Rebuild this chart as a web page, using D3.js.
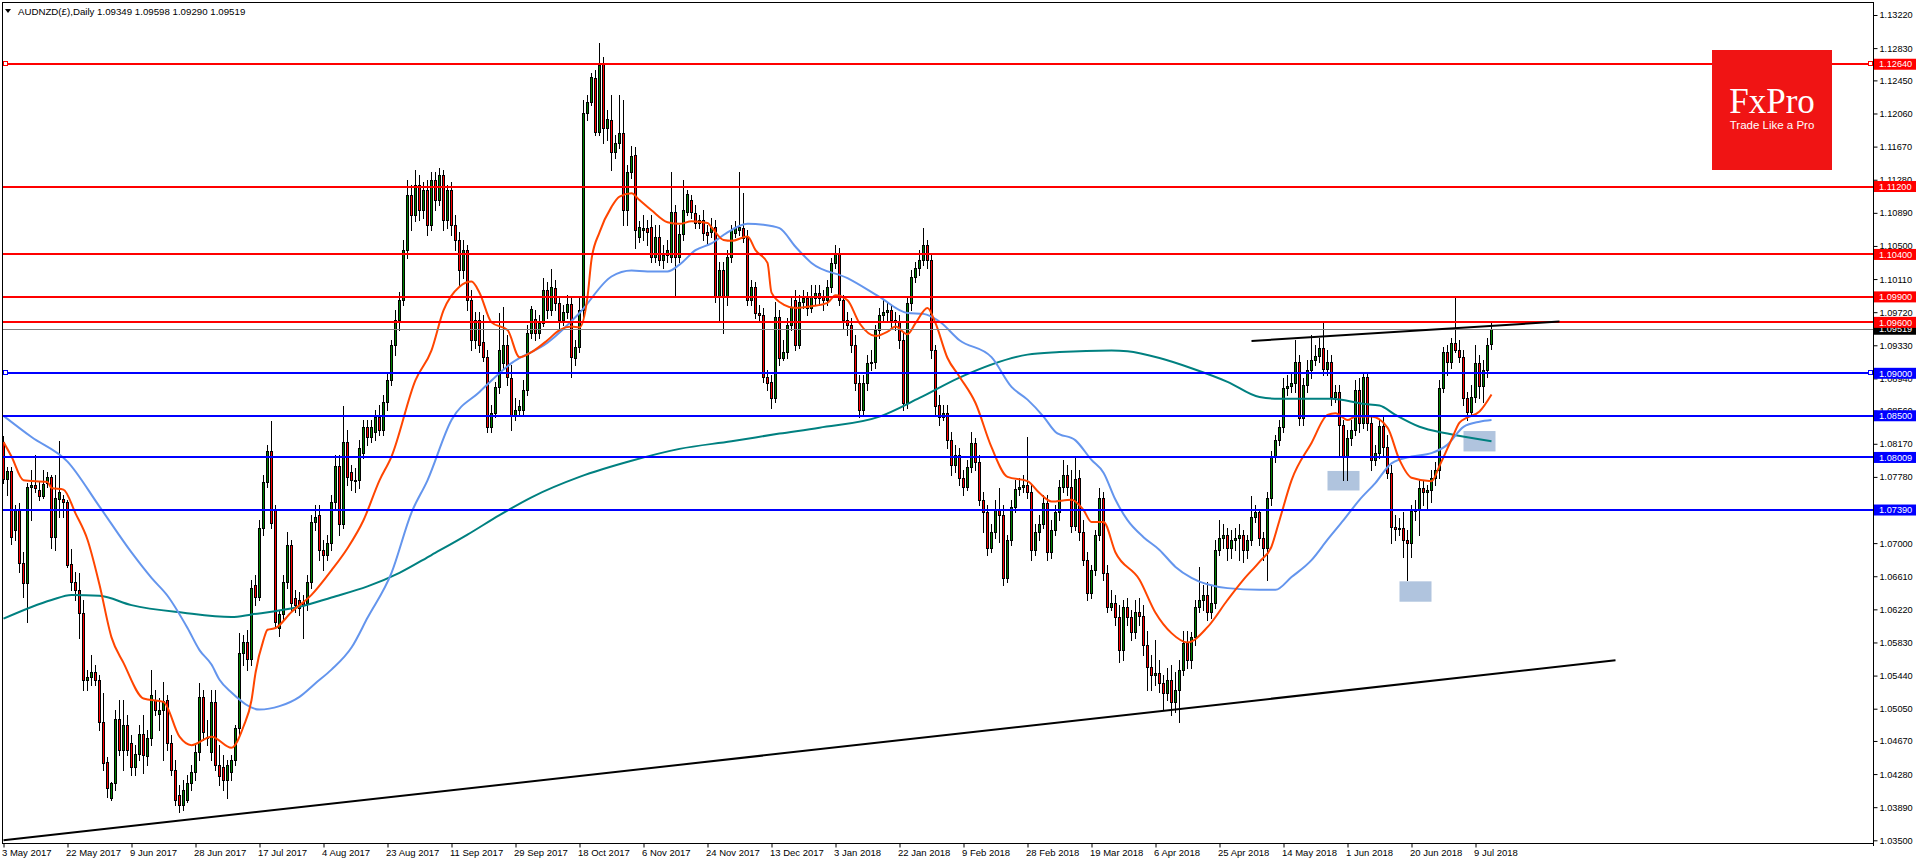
<!DOCTYPE html>
<html><head><meta charset="utf-8">
<script src="https://cdn.jsdelivr.net/npm/d3@7"></script>
<style>body{margin:0;background:#fff;}svg{display:block;}</style>
</head><body><svg id="c" width="1916" height="864"></svg>
<script>
const symbolTitle = "AUDNZD(£),Daily  1.09349 1.09598 1.09290 1.09519";
const dateLabels = ["3 May 2017","22 May 2017","9 Jun 2017","28 Jun 2017","17 Jul 2017","4 Aug 2017","23 Aug 2017","11 Sep 2017","29 Sep 2017","18 Oct 2017","6 Nov 2017","24 Nov 2017","13 Dec 2017","3 Jan 2018","22 Jan 2018","9 Feb 2018","28 Feb 2018","19 Mar 2018","6 Apr 2018","25 Apr 2018","14 May 2018","1 Jun 2018","20 Jun 2018","9 Jul 2018"];
const dateBars = [0,16,32,48,64,80,96,112,128,144,160,176,192,208,224,240,256,272,288,304,320,336,352,368];
const priceTicks = ["1.13220","1.12830","1.12450","1.12060","1.11670","1.11280","1.10890","1.10500","1.10110","1.09720","1.09330","1.08940","1.08560","1.08170","1.07780","1.07390","1.07000","1.06610","1.06220","1.05830","1.05440","1.05050","1.04670","1.04280","1.03890","1.03500"];
// daily candles [open, high, low, close]
const candles = [
[1.0819,1.0826,1.0771,1.0775],[1.0775,1.0790,1.0757,1.0785],[1.0785,1.0790,1.0699,1.0707],[1.0716,1.0745,1.0704,1.0739],[1.0739,1.0747,1.0666,1.0677],
[1.0677,1.0689,1.0637,1.0653],[1.0653,1.0771,1.0607,1.0766],[1.0766,1.0786,1.0727,1.0769],[1.0769,1.0804,1.0760,1.0765],[1.0763,1.0772,1.0751,1.0755],
[1.0755,1.0786,1.0753,1.0770],[1.0771,1.0784,1.0766,1.0778],[1.0778,1.0780,1.0694,1.0707],[1.0707,1.0780,1.0692,1.0753],[1.0752,1.0820,1.0731,1.0760],
[1.0752,1.0757,1.0731,1.0749],[1.0749,1.0751,1.0672,1.0674],[1.0676,1.0693,1.0645,1.0654],[1.0654,1.0666,1.0633,1.0645],[1.0645,1.0665,1.0588,1.0618],
[1.0618,1.0633,1.0527,1.0539],[1.0539,1.0551,1.0527,1.0542],[1.0542,1.0568,1.0533,1.0548],[1.0548,1.0557,1.0533,1.0539],[1.0539,1.0545,1.0480,1.0489],
[1.0489,1.0524,1.0433,1.0441],[1.0442,1.0448,1.0401,1.0412],[1.0400,1.0419,1.0398,1.0418],[1.0418,1.0504,1.0409,1.0493],[1.0493,1.0515,1.0451,1.0456],
[1.0456,1.0515,1.0433,1.0486],[1.0486,1.0498,1.0451,1.0456],[1.0465,1.0474,1.0427,1.0436],[1.0436,1.0462,1.0427,1.0452],[1.0452,1.0486,1.0445,1.0475],
[1.0475,1.0498,1.0429,1.0451],[1.0449,1.0480,1.0439,1.0471],[1.0471,1.0551,1.0462,1.0521],[1.0515,1.0527,1.0498,1.0504],[1.0499,1.0518,1.0480,1.0504],
[1.0504,1.0537,1.0445,1.0514],[1.0515,1.0521,1.0456,1.0465],[1.0465,1.0474,1.0427,1.0433],[1.0433,1.0445,1.0392,1.0398],[1.0403,1.0415,1.0383,1.0392],
[1.0392,1.0421,1.0386,1.0409],[1.0398,1.0427,1.0395,1.0418],[1.0418,1.0439,1.0409,1.0431],[1.0431,1.0462,1.0421,1.0454],[1.0454,1.0535,1.0445,1.0519],
[1.0519,1.0527,1.0468,1.0477],[1.0472,1.0492,1.0462,1.0471],[1.0454,1.0527,1.0445,1.0513],[1.0513,1.0527,1.0433,1.0439],[1.0439,1.0462,1.0415,1.0426],
[1.0436,1.0451,1.0409,1.0421],[1.0421,1.0445,1.0400,1.0439],[1.0431,1.0451,1.0421,1.0445],[1.0445,1.0486,1.0439,1.0482],[1.0482,1.0594,1.0474,1.0571],
[1.0571,1.0592,1.0557,1.0583],[1.0583,1.0598,1.0551,1.0563],[1.0563,1.0657,1.0557,1.0647],[1.0651,1.0663,1.0627,1.0636],[1.0637,1.0727,1.0633,1.0718],
[1.0718,1.0780,1.0710,1.0772],[1.0772,1.0816,1.0766,1.0809],[1.0809,1.0844,1.0718,1.0724],[1.0739,1.0745,1.0600,1.0607],[1.0600,1.0621,1.0591,1.0617],
[1.0617,1.0662,1.0609,1.0654],[1.0654,1.0713,1.0647,1.0698],[1.0698,1.0704,1.0621,1.0629],[1.0635,1.0645,1.0619,1.0627],[1.0633,1.0643,1.0615,1.0624],
[1.0631,1.0639,1.0588,1.0627],[1.0629,1.0662,1.0621,1.0654],[1.0654,1.0733,1.0647,1.0725],[1.0725,1.0745,1.0715,1.0731],[1.0733,1.0745,1.0680,1.0692],
[1.0692,1.0704,1.0668,1.0686],[1.0686,1.0710,1.0680,1.0700],[1.0700,1.0757,1.0692,1.0749],[1.0749,1.0804,1.0741,1.0791],[1.0791,1.0804,1.0710,1.0723],
[1.0723,1.0861,1.0718,1.0819],[1.0819,1.0833,1.0768,1.0778],[1.0784,1.0792,1.0763,1.0774],[1.0774,1.0788,1.0760,1.0773],[1.0774,1.0821,1.0765,1.0812],
[1.0806,1.0845,1.0800,1.0837],[1.0837,1.0845,1.0815,1.0825],[1.0825,1.0845,1.0819,1.0837],[1.0831,1.0857,1.0821,1.0849],[1.0849,1.0863,1.0827,1.0833],
[1.0833,1.0874,1.0827,1.0866],[1.0866,1.0902,1.0857,1.0892],[1.0892,1.0939,1.0886,1.0933],[1.0933,1.0974,1.0921,1.0963],[1.0963,1.0996,1.0951,1.0986],
[1.0986,1.1057,1.0980,1.1045],[1.1045,1.1128,1.1036,1.1110],[1.1110,1.1122,1.1069,1.1086],[1.1086,1.1139,1.1079,1.1122],[1.1122,1.1133,1.1081,1.1092],
[1.1092,1.1125,1.1083,1.1116],[1.1116,1.1128,1.1063,1.1075],[1.1075,1.1137,1.1069,1.1128],[1.1128,1.1137,1.1092,1.1104],[1.1104,1.1142,1.1098,1.1133],
[1.1133,1.1139,1.1069,1.1081],[1.1081,1.1122,1.1071,1.1116],[1.1116,1.1125,1.1063,1.1075],[1.1075,1.1086,1.1045,1.1057],[1.1057,1.1067,1.1004,1.1022],
[1.1022,1.1057,1.1012,1.1045],[1.1045,1.1051,1.0974,1.0986],[1.0986,1.0998,1.0927,1.0939],[1.0939,1.0972,1.0930,1.0963],[1.0963,1.0972,1.0925,1.0933],
[1.0937,1.0969,1.0914,1.0919],[1.0919,1.0927,1.0831,1.0837],[1.0837,1.0863,1.0831,1.0853],[1.0853,1.0890,1.0848,1.0884],[1.0884,1.0971,1.0877,1.0927],
[1.0912,1.0978,1.0906,1.0933],[1.0933,1.0945,1.0886,1.0896],[1.0895,1.0910,1.0833,1.0851],[1.0851,1.0871,1.0845,1.0857],[1.0857,1.0869,1.0850,1.0861],
[1.0857,1.0892,1.0852,1.0880],[1.0880,1.0957,1.0874,1.0948],[1.0948,1.0979,1.0942,1.0976],[1.0964,1.0974,1.0939,1.0948],[1.0948,1.0969,1.0942,1.0959],
[1.0959,1.1012,1.0956,1.0998],[1.0998,1.1008,1.0965,1.0974],[1.0974,1.1023,1.0969,1.1002],[1.1000,1.1010,1.0974,1.0983],[1.0983,1.0991,1.0951,1.0963],
[1.0963,1.0980,1.0957,1.0972],[1.0972,1.0992,1.0965,1.0982],[1.0982,1.0989,1.0896,1.0919],[1.0918,1.0939,1.0910,1.0931],[1.0931,1.0990,1.0925,1.0974],
[1.0974,1.1222,1.0963,1.1207],[1.1207,1.1228,1.1198,1.1220],[1.1220,1.1254,1.1216,1.1249],[1.1248,1.1257,1.1181,1.1184],[1.1184,1.1289,1.1181,1.1263],
[1.1266,1.1272,1.1171,1.1189],[1.1189,1.1210,1.1175,1.1200],[1.1198,1.1228,1.1139,1.1161],[1.1161,1.1181,1.1154,1.1171],[1.1171,1.1228,1.1165,1.1183],
[1.1183,1.1222,1.1075,1.1092],[1.1092,1.1145,1.1075,1.1137],[1.1137,1.1168,1.1130,1.1156],[1.1157,1.1167,1.1048,1.1069],[1.1061,1.1079,1.1055,1.1072],
[1.1069,1.1086,1.1057,1.1071],[1.1071,1.1081,1.1051,1.1067],[1.1072,1.1086,1.1031,1.1037],[1.1037,1.1075,1.1031,1.1061],[1.1061,1.1075,1.1027,1.1033],
[1.1033,1.1051,1.1024,1.1039],[1.1039,1.1057,1.1031,1.1045],[1.1037,1.1137,1.1031,1.1090],[1.1090,1.1098,1.0990,1.1037],[1.1037,1.1075,1.1031,1.1064],
[1.1064,1.1128,1.1057,1.1092],[1.1090,1.1116,1.1086,1.1111],[1.1104,1.1110,1.1083,1.1090],[1.1089,1.1098,1.1071,1.1077],[1.1077,1.1086,1.1071,1.1081],
[1.1081,1.1092,1.1057,1.1065],[1.1067,1.1075,1.1051,1.1063],[1.1067,1.1083,1.1060,1.1072],[1.1072,1.1081,1.0984,1.0990],[1.0990,1.1031,1.0963,1.1022],
[1.1022,1.1031,1.0948,1.0990],[1.0990,1.1045,1.0980,1.1037],[1.1037,1.1075,1.1031,1.1069],[1.1065,1.1079,1.1060,1.1071],[1.1069,1.1137,1.1063,1.1072],
[1.1071,1.1112,1.1055,1.1059],[1.1061,1.1069,1.0980,1.0986],[1.0986,1.1010,1.0980,1.1002],[1.1002,1.1008,1.0965,1.0971],[1.0971,1.0980,1.0960,1.0969],
[1.0969,1.0977,1.0890,1.0896],[1.0896,1.0904,1.0880,1.0889],[1.0890,1.0898,1.0859,1.0871],[1.0871,1.0984,1.0866,1.0966],[1.0966,1.0974,1.0910,1.0918],
[1.0918,1.0939,1.0916,1.0925],[1.0925,1.0965,1.0918,1.0957],[1.0957,1.0989,1.0951,1.0978],[1.0986,1.0998,1.0927,1.0933],[1.0933,1.0992,1.0930,1.0984],
[1.0984,1.0998,1.0977,1.0989],[1.0989,1.0996,1.0969,1.0977],[1.0977,1.1004,1.0972,1.0990],[1.0989,1.1004,1.0980,1.0995],[1.0995,1.1004,1.0980,1.0989],
[1.0990,1.0998,1.0974,1.0986],[1.0986,1.1010,1.0980,1.1002],[1.1002,1.1036,1.0996,1.1030],[1.1030,1.1051,1.1024,1.1042],[1.1042,1.1048,1.0980,1.0986],
[1.0986,1.0992,1.0953,1.0963],[1.0963,1.0972,1.0945,1.0957],[1.0957,1.0965,1.0925,1.0933],[1.0933,1.0945,1.0880,1.0889],[1.0889,1.0898,1.0848,1.0857],
[1.0857,1.0898,1.0851,1.0889],[1.0889,1.0921,1.0880,1.0912],[1.0912,1.0927,1.0904,1.0913],[1.0913,1.0957,1.0906,1.0951],[1.0951,1.0977,1.0942,1.0969],
[1.0969,1.0986,1.0963,1.0972],[1.0972,1.0984,1.0960,1.0974],[1.0974,1.0980,1.0953,1.0963],[1.0963,1.0972,1.0951,1.0960],[1.0960,1.0969,1.0930,1.0939],
[1.0939,1.0949,1.0857,1.0865],[1.0865,1.0989,1.0859,1.0983],[1.0983,1.1022,1.0974,1.1014],[1.1014,1.1031,1.1008,1.1024],[1.1024,1.1045,1.1016,1.1033],
[1.1033,1.1071,1.1027,1.1051],[1.1051,1.1057,1.1024,1.1033],[1.1033,1.1039,1.0918,1.0927],[1.0927,1.0933,1.0851,1.0861],[1.0863,1.0874,1.0839,1.0849],
[1.0849,1.0863,1.0845,1.0853],[1.0853,1.0863,1.0812,1.0821],[1.0821,1.0831,1.0780,1.0792],[1.0792,1.0815,1.0784,1.0804],[1.0804,1.0812,1.0768,1.0777],
[1.0777,1.0786,1.0757,1.0766],[1.0766,1.0798,1.0763,1.0790],[1.0790,1.0831,1.0784,1.0818],[1.0818,1.0824,1.0786,1.0795],[1.0795,1.0804,1.0745,1.0751],
[1.0751,1.0760,1.0713,1.0737],[1.0737,1.0745,1.0686,1.0694],[1.0694,1.0722,1.0690,1.0713],[1.0713,1.0751,1.0706,1.0739],[1.0739,1.0765,1.0701,1.0733],
[1.0733,1.0745,1.0651,1.0659],[1.0659,1.0710,1.0654,1.0704],[1.0704,1.0751,1.0698,1.0743],[1.0743,1.0774,1.0737,1.0764],[1.0764,1.0777,1.0757,1.0766],
[1.0766,1.0780,1.0760,1.0768],[1.0768,1.0825,1.0753,1.0760],[1.0760,1.0768,1.0680,1.0692],[1.0692,1.0722,1.0686,1.0713],[1.0713,1.0733,1.0704,1.0723],
[1.0723,1.0757,1.0718,1.0747],[1.0747,1.0757,1.0680,1.0690],[1.0690,1.0727,1.0683,1.0715],[1.0715,1.0745,1.0710,1.0737],[1.0737,1.0774,1.0727,1.0766],
[1.0766,1.0798,1.0760,1.0780],[1.0780,1.0792,1.0757,1.0766],[1.0766,1.0786,1.0713,1.0720],[1.0720,1.0800,1.0715,1.0776],[1.0777,1.0786,1.0704,1.0713],
[1.0713,1.0727,1.0674,1.0680],[1.0680,1.0690,1.0633,1.0641],[1.0641,1.0674,1.0635,1.0668],[1.0668,1.0715,1.0662,1.0710],[1.0710,1.0765,1.0704,1.0753],
[1.0753,1.0760,1.0656,1.0665],[1.0665,1.0674,1.0619,1.0625],[1.0625,1.0645,1.0621,1.0629],[1.0629,1.0639,1.0603,1.0613],[1.0613,1.0627,1.0560,1.0574],
[1.0574,1.0633,1.0562,1.0625],[1.0625,1.0635,1.0603,1.0613],[1.0613,1.0621,1.0586,1.0595],[1.0595,1.0633,1.0588,1.0619],[1.0619,1.0635,1.0603,1.0614],
[1.0614,1.0627,1.0568,1.0580],[1.0580,1.0597,1.0527,1.0554],[1.0554,1.0568,1.0527,1.0545],[1.0545,1.0586,1.0533,1.0547],[1.0547,1.0562,1.0525,1.0535],
[1.0535,1.0545,1.0503,1.0523],[1.0523,1.0553,1.0515,1.0539],[1.0539,1.0556,1.0498,1.0513],[1.0513,1.0548,1.0501,1.0527],[1.0527,1.0562,1.0489,1.0551],
[1.0551,1.0597,1.0545,1.0582],[1.0582,1.0597,1.0553,1.0562],[1.0562,1.0595,1.0553,1.0589],[1.0589,1.0633,1.0580,1.0625],[1.0625,1.0672,1.0619,1.0633],
[1.0633,1.0651,1.0621,1.0639],[1.0639,1.0654,1.0609,1.0619],[1.0619,1.0651,1.0612,1.0629],[1.0629,1.0704,1.0624,1.0692],[1.0692,1.0727,1.0686,1.0706],
[1.0706,1.0722,1.0694,1.0709],[1.0709,1.0718,1.0680,1.0694],[1.0694,1.0715,1.0683,1.0704],[1.0704,1.0718,1.0692,1.0706],[1.0706,1.0722,1.0680,1.0710],
[1.0710,1.0715,1.0678,1.0692],[1.0692,1.0710,1.0683,1.0704],[1.0704,1.0755,1.0698,1.0731],[1.0731,1.0745,1.0725,1.0737],[1.0737,1.0739,1.0698,1.0706],
[1.0706,1.0713,1.0680,1.0694],[1.0694,1.0760,1.0656,1.0753],[1.0753,1.0808,1.0745,1.0801],[1.0801,1.0827,1.0796,1.0821],[1.0821,1.0845,1.0815,1.0837],
[1.0837,1.0895,1.0831,1.0883],[1.0883,1.0898,1.0874,1.0885],[1.0885,1.0902,1.0878,1.0889],[1.0889,1.0939,1.0878,1.0913],[1.0913,1.0921,1.0839,1.0847],
[1.0847,1.0895,1.0839,1.0886],[1.0886,1.0916,1.0878,1.0904],[1.0904,1.0945,1.0895,1.0916],[1.0916,1.0933,1.0910,1.0920],[1.0920,1.0942,1.0913,1.0930],
[1.0930,1.0959,1.0898,1.0905],[1.0905,1.0927,1.0898,1.0913],[1.0913,1.0921,1.0863,1.0872],[1.0872,1.0886,1.0866,1.0878],[1.0878,1.0886,1.0801,1.0839],
[1.0839,1.0845,1.0774,1.0801],[1.0801,1.0833,1.0774,1.0824],[1.0824,1.0845,1.0815,1.0833],[1.0833,1.0892,1.0827,1.0880],[1.0880,1.0895,1.0831,1.0842],
[1.0842,1.0902,1.0836,1.0896],[1.0896,1.0902,1.0833,1.0842],[1.0842,1.0851,1.0786,1.0798],[1.0798,1.0815,1.0792,1.0806],[1.0806,1.0845,1.0800,1.0838],
[1.0838,1.0848,1.0804,1.0813],[1.0813,1.0827,1.0777,1.0783],[1.0783,1.0792,1.0700,1.0719],[1.0719,1.0733,1.0704,1.0717],[1.0717,1.0730,1.0710,1.0718],
[1.0718,1.0737,1.0684,1.0704],[1.0704,1.0715,1.0656,1.0700],[1.0700,1.0745,1.0684,1.0738],[1.0738,1.0751,1.0727,1.0740],[1.0740,1.0774,1.0710,1.0765],
[1.0765,1.0774,1.0745,1.0760],[1.0760,1.0768,1.0739,1.0763],[1.0763,1.0786,1.0749,1.0777],[1.0777,1.0796,1.0768,1.0786],[1.0786,1.0892,1.0777,1.0883],
[1.0883,1.0931,1.0878,1.0925],[1.0925,1.0933,1.0898,1.0913],[1.0913,1.0942,1.0906,1.0936],[1.0936,1.0989,1.0925,1.0927],[1.0927,1.0939,1.0913,1.0919],
[1.0919,1.0927,1.0863,1.0871],[1.0871,1.0878,1.0845,1.0855],[1.0855,1.0886,1.0851,1.0872],[1.0872,1.0933,1.0866,1.0912],[1.0912,1.0921,1.0871,1.0885],
[1.0885,1.0916,1.0866,1.0904],[1.0904,1.0942,1.0896,1.0933],[1.09349,1.09598,1.09290,1.09519]
];
// moving averages: [bar, price]
const maFast = [[0,1.0819],[2,1.0802],[5,1.0774],[11,1.0772],[12,1.0765],[15,1.0763],[18,1.0735],[21,1.0704],[24,1.0651],[27,1.0589],[30,1.0559],[35,1.0517],[40,1.0513],[44,1.0472],[47,1.0462],[52,1.0472],[57,1.0459],[60,1.0484],[62,1.0515],[63,1.0547],[65,1.0586],[66,1.0598],[68,1.0600],[72,1.0619],[77,1.0639],[82,1.0668],[86,1.0694],[90,1.0727],[94,1.0774],[97,1.0802],[103,1.0892],[107,1.0927],[110,1.0974],[114,1.1002],[117,1.1008],[119,1.0995],[122,1.0960],[126,1.0951],[129,1.0919],[132,1.0925],[136,1.0939],[139,1.0951],[142,1.0955],[144,1.0954],[146,1.0990],[147,1.1034],[149,1.1066],[152,1.1096],[154,1.1108],[157,1.1112],[159,1.1104],[162,1.1092],[166,1.1078],[169,1.1076],[172,1.1079],[176,1.1077],[177,1.1072],[180,1.1057],[182,1.1056],[186,1.1061],[188,1.1045],[191,1.1030],[192,1.0995],[195,1.0981],[198,1.0977],[202,1.0979],[206,1.0983],[208,1.0992],[211,1.0986],[214,1.0959],[218,1.0944],[221,1.0949],[223,1.0955],[226,1.0946],[228,1.0959],[231,1.0977],[233,1.0959],[236,1.0918],[239,1.0896],[243,1.0865],[247,1.0813],[251,1.0778],[256,1.0773],[259,1.0759],[262,1.0749],[267,1.0751],[270,1.0739],[272,1.0725],[275,1.0725],[278,1.0689],[284,1.0657],[288,1.0618],[292,1.0594],[296,1.0583],[301,1.0601],[306,1.0633],[310,1.0657],[314,1.0678],[317,1.0696],[319,1.0727],[322,1.0774],[327,1.0818],[331,1.0851],[333,1.0853],[336,1.0845],[338,1.0849],[342,1.0849],[346,1.0836],[349,1.0798],[352,1.0777],[357,1.0773],[359,1.0791],[362,1.0822],[364,1.0842],[366,1.0848],[369,1.0855],[372,1.0875]];
const maMid = [[0,1.0850],[7,1.0825],[16,1.0796],[24,1.0743],[32,1.0689],[37,1.0659],[41,1.0638],[46,1.0600],[49,1.0574],[52,1.0557],[54,1.0539],[57,1.0524],[64,1.0504],[69,1.0508],[74,1.0519],[78,1.0535],[82,1.0551],[87,1.0577],[91,1.0612],[97,1.0665],[102,1.0736],[106,1.0774],[112,1.0845],[119,1.0878],[127,1.0912],[136,1.0936],[144,1.0971],[152,1.1014],[157,1.1021],[161,1.1020],[166,1.1020],[169,1.1028],[173,1.1045],[177,1.1053],[181,1.1066],[186,1.1076],[190,1.1075],[194,1.1071],[198,1.1049],[202,1.1030],[211,1.1012],[219,1.0990],[226,1.0971],[230,1.0970],[234,1.0961],[239,1.0939],[247,1.0919],[252,1.0884],[256,1.0869],[260,1.0849],[263,1.0831],[268,1.0821],[272,1.0798],[275,1.0783],[278,1.0751],[281,1.0727],[285,1.0707],[289,1.0692],[293,1.0672],[297,1.0659],[306,1.0647],[314,1.0645],[318,1.0645],[322,1.0660],[327,1.0680],[331,1.0704],[335,1.0727],[339,1.0751],[343,1.0771],[347,1.0794],[352,1.0802],[357,1.0806],[361,1.0816],[365,1.0837],[369,1.0843],[372,1.0845]];
const maSlow = [[0,1.0611],[12,1.0633],[17,1.0639],[24,1.0638],[32,1.0627],[45,1.0618],[57,1.0613],[62,1.0616],[74,1.0625],[82,1.0636],[91,1.0649],[99,1.0665],[107,1.0686],[116,1.0710],[124,1.0733],[132,1.0754],[144,1.0778],[157,1.0797],[169,1.0811],[182,1.0820],[194,1.0829],[204,1.0836],[219,1.0849],[229,1.0871],[239,1.0895],[256,1.0922],[264,1.0925],[277,1.0927],[281,1.0926],[289,1.0918],[297,1.0906],[306,1.0890],[314,1.0872],[319,1.0870],[332,1.0870],[340,1.0864],[344,1.0862],[348,1.0851],[354,1.0837],[361,1.0829],[372,1.0820]];
const resistanceLevels = [1.12640,1.11200,1.10400,1.09900,1.09600];
const supportLevels = [1.09000,1.08500,1.08009,1.07390];
const markedLevels = [1.12640,1.09000];
const lastPrice = 1.09519;
const trendLower = [[0,1.0350],[403,1.0562]];
const trendUpper = [[312,1.0938],[389,1.0961]];
const zones = [[331,339,1.0785,1.0762],[349,357,1.0655,1.0631],[365,373,1.0832,1.0808]];

const FONT = '"Liberation Sans", Arial, sans-serif';
const svg = d3.select("#c");
svg.append("rect").attr("width",1916).attr("height",864).attr("fill","#fff");

const x = d3.scaleLinear().domain([0, 372]).range([3.5, 3.5 + 4*372]);
const y = d3.scaleLinear().domain([1.035, 1.1322]).range([840.3, 15.0]);

svg.append("clipPath").attr("id","clip").append("rect").attr("x",3).attr("y",3).attr("width",1870).attr("height",840);
const g = svg.append("g").attr("clip-path","url(#clip)");

// zones
g.selectAll("rect.zone").data(zones).join("rect").attr("class","zone")
  .attr("x", d=>x(d[0])).attr("width", d=>x(d[1])-x(d[0]))
  .attr("y", d=>y(d[2])).attr("height", d=>y(d[3])-y(d[2]))
  .attr("fill","#b0c4de");

// candles
const cg = g.append("g").attr("shape-rendering","crispEdges");
candles.forEach((c,i)=>{
  const [o,h,l,cl] = c;
  const cx = x(i);
  cg.append("line").attr("x1",cx).attr("x2",cx).attr("y1",Math.round(y(h))).attr("y2",Math.round(y(l))+1).attr("stroke","#000").attr("stroke-width",1);
  const top = Math.round(y(Math.max(o,cl))), bot = Math.round(y(Math.min(o,cl)));
  const hgt = Math.max(1, bot-top);
  cg.append("rect").attr("x",cx-1.5).attr("y",top).attr("width",3).attr("height",hgt+1).attr("fill","#000");
  if (hgt > 1) cg.append("rect").attr("x",cx-0.5).attr("y",top+1).attr("width",1).attr("height",hgt-1).attr("fill", cl>=o ? "#008000" : "#ff0000");
});

// moving averages
const ln = d3.line().x(d=>x(d[0])).y(d=>y(d[1])).curve(d3.curveMonotoneX);
[[maSlow,"#008080"],[maMid,"#6495ed"],[maFast,"#ff4500"]].forEach(([d,c])=>{
  g.append("path").datum(d).attr("d",ln).attr("fill","none").attr("stroke",c).attr("stroke-width",2);
});

// last price line
g.append("line").attr("x1",3).attr("x2",1873).attr("y1",Math.round(y(lastPrice))+0.5).attr("y2",Math.round(y(lastPrice))+0.5).attr("stroke","#808080").attr("stroke-width",1);

// horizontal levels
const levels = resistanceLevels.map(v=>({v,c:"#ff0000"})).concat(supportLevels.map(v=>({v,c:"#0000ff"})));
g.selectAll("line.lvl").data(levels).join("line").attr("class","lvl")
  .attr("x1",3).attr("x2",1873).attr("y1",d=>Math.round(y(d.v))).attr("y2",d=>Math.round(y(d.v)))
  .attr("stroke",d=>d.c).attr("stroke-width",2);

// trend lines
[trendLower, trendUpper].forEach(t=>{
  g.append("line").attr("x1",x(t[0][0])).attr("y1",y(t[0][1])).attr("x2",x(t[1][0])).attr("y2",y(t[1][1]))
   .attr("stroke","#000").attr("stroke-width",2);
});

// endpoint markers
markedLevels.forEach(v=>{
  const c = v>1.1 ? "#ff0000" : "#0000ff";
  const yy = Math.round(y(v));
  [3.5, 1868.5].forEach(px=>{
    svg.append("rect").attr("x",px).attr("y",yy-2.5).attr("width",4).attr("height",4).attr("fill","#fff").attr("stroke",c).attr("stroke-width",1);
  });
});

// logo
svg.append("rect").attr("x",1712).attr("y",50).attr("width",120).attr("height",120).attr("fill","#f01414");
svg.append("text").attr("x",1772).attr("y",113).attr("text-anchor","middle").attr("fill","#fff")
  .attr("font-family",'"Liberation Serif", "DejaVu Serif", serif').attr("font-size",35).text("FxPro");
svg.append("text").attr("x",1772).attr("y",128.5).attr("text-anchor","middle").attr("fill","#fff")
  .attr("font-family",FONT).attr("font-size",11.5).text("Trade Like a Pro");

// frame
svg.append("rect").attr("x",2.5).attr("y",2.5).attr("width",1871).attr("height",841).attr("fill","none").attr("stroke","#000").attr("stroke-width",1);

// y axis
const yAxis = d3.axisRight(y).tickValues(priceTicks.map(Number)).tickFormat((d,i)=>priceTicks[i]).tickSize(4).tickSizeOuter(0).tickPadding(2);
const ya = svg.append("g").attr("transform","translate(1873.5,0)").call(yAxis);
ya.select(".domain").remove();
ya.selectAll("text").attr("font-family",FONT).attr("font-size",9.2).attr("fill","#000");
svg.append("line").attr("x1",1873.5).attr("x2",1873.5).attr("y1",2).attr("y2",846).attr("stroke","#000");

// x axis
const xAxis = d3.axisBottom(x).tickValues(dateBars).tickFormat((d,i)=>dateLabels[i]).tickSize(4).tickSizeOuter(0).tickPadding(2);
const xa = svg.append("g").attr("transform","translate(0,843.5)").call(xAxis);
xa.select(".domain").remove();
xa.selectAll("text").attr("font-family",FONT).attr("font-size",9.5).attr("text-anchor","start").attr("dx",-2).attr("fill","#000");

// price tags on axis
function tag(v, fill){
  const yy = y(v);
  svg.append("rect").attr("x",1874).attr("y",yy-5.5).attr("width",42).attr("height",11).attr("fill",fill);
  svg.append("text").attr("x",1879).attr("y",yy).attr("dy","0.35em").attr("font-family",FONT).attr("font-size",9.2).attr("fill","#fff").text(v.toFixed(5));
}
tag(lastPrice, "#000");
resistanceLevels.forEach(v=>tag(v,"#ff0000"));
supportLevels.forEach(v=>tag(v,"#0000ff"));

// title
svg.append("path").attr("d","M5,9 L11,9 L8,13 Z").attr("fill","#000");
svg.append("text").attr("x",18).attr("y",15).attr("font-family",FONT).attr("font-size",9.7).attr("fill","#000").text(symbolTitle);
</script></body></html>
